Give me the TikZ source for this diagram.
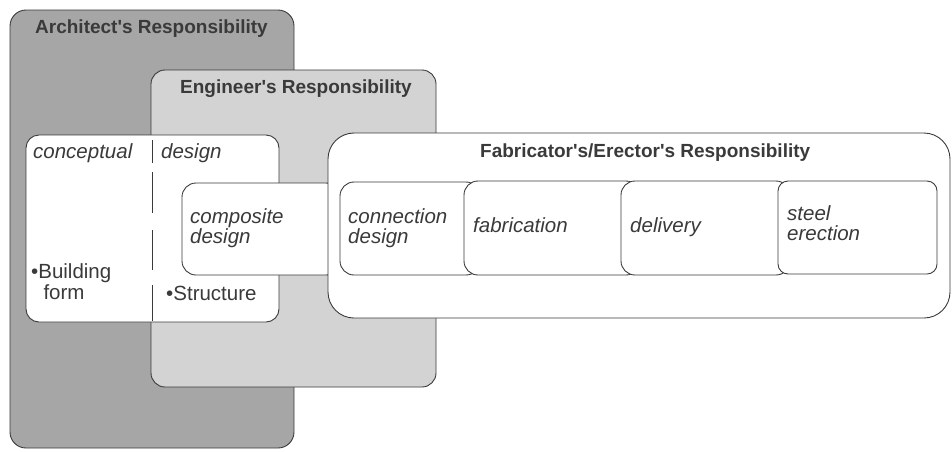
\documentclass[tikz,border=0pt]{standalone}
\usepackage{fontspec}
\setmainfont{Liberation Sans}
\definecolor{archgray}{HTML}{A6A6A6}
\definecolor{enggray}{HTML}{D3D3D3}
\definecolor{ink}{HTML}{3A3A3A}
\newcommand{\apos}{\textquotesingle}
\begin{document}
\begin{tikzpicture}[x=1pt,y=-1pt,
  edge/.style={draw=ink, line width=0.9pt},
  title/.style={font=\fontsize{19}{22}\selectfont\bfseries, text=ink, anchor=base west, inner sep=0pt},
  lab/.style={font=\fontsize{20.5}{20}\selectfont\itshape, text=ink, anchor=base west, inner sep=0pt, align=left},
  plain/.style={font=\fontsize{20.5}{21}\selectfont, text=ink, anchor=base west, inner sep=0pt, align=left},
  card/.style={edge, fill=white, rounded corners=14pt}
]
\useasboundingbox (0,0) rectangle (952,451);
% responsibility areas
\draw[edge, fill=archgray, rounded corners=16pt] (10,10) rectangle (294,448);
\draw[edge, fill=enggray, rounded corners=14pt] (151,70) rectangle (436,387);
\draw[edge, fill=white, rounded corners=13pt] (26,135) rectangle (279,322);
\draw[edge, dash pattern=on 23pt off 9pt on 41pt off 17pt on 40pt off 15pt on 40pt off 5pt] (152,140) -- (152,321);
% composite design card
\draw[card] (182,183) rectangle (340,275);
% fabricator box
\draw[edge, fill=white, rounded corners=26pt] (328,133) rectangle (950,318);
% process cards
\draw[card] (340,182) rectangle (480,275);
\draw[card] (464,181) rectangle (640,275);
\draw[card] (621,181) rectangle (790,275);
\draw[card, rounded corners=10pt] (778,181) rectangle (937,274);
% texts
\node[title] (tarch) at (35,33) {Architect\apos s Responsibility};
\node[title] (teng) at (180,93) {Engineer\apos s Responsibility};
\node[title] (tfab) at (480,157) {Fabricator\apos s/Erector\apos s Responsibility};
\node[lab] (tconc) at (33,158) {conceptual};
\node[lab] (tdes) at (161,158) {design};
\node[lab] (tcomp) at (190,243) {composite\\design};
\node[lab] (tconn) at (348,243) {connection\\design};
\node[lab] (tfabr) at (473,232) {fabrication};
\node[lab] (tdel) at (630,232) {delivery};
\node[lab] (tsteel) at (787,240) {steel\\erection};
\node[plain] (tbuild) at (31,299) {•Building\\\hspace*{0.6em}form};
\node[plain] (tstruct) at (166,300) {•Structure};
\end{tikzpicture}
\end{document}
